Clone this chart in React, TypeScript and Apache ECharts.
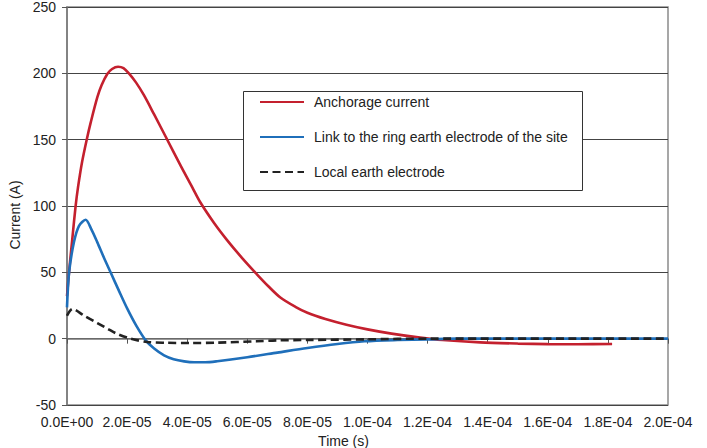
import React, { useEffect, useRef } from "react";
import * as echarts from "echarts";

// time in seconds, current in amperes
const anchorageTime = [0, 0.067e-5, 0.18e-5, 0.287e-5, 0.366e-5, 0.5e-5, 0.656e-5, 0.79e-5, 1.01e-5, 1.15e-5, 1.34e-5, 1.5e-5, 1.7e-5, 1.88e-5, 2.06e-5, 2.3e-5, 2.56e-5, 2.9e-5, 3.29e-5, 3.79e-5, 4.17e-5, 4.43e-5, 4.9e-5, 5.32e-5, 5.8e-5, 6.32e-5, 6.7e-5, 7.1e-5, 7.6e-5, 8.0e-5, 8.6e-5, 9.3e-5, 10e-5, 10.8e-5, 11.75e-5, 12.5e-5, 13.75e-5, 15e-5, 16e-5, 17e-5, 18.14e-5];
const anchorageCurrent = [32, 50, 76, 100, 114, 133, 150, 163, 182, 191, 199.5, 203.3, 205, 204, 200, 193, 183.5, 169, 152, 130, 114, 103, 87, 74.5, 61.5, 48.5, 39.5, 31, 24, 19.5, 14.8, 10.5, 7, 3.8, 0.8, -1, -2.8, -3.7, -4.1, -4.2, -4];

const ringTime = [0, 0.07e-5, 0.23e-5, 0.4e-5, 0.62e-5, 0.8e-5, 1.01e-5, 1.23e-5, 1.45e-5, 1.73e-5, 2.01e-5, 2.3e-5, 2.62e-5, 2.9e-5, 3.23e-5, 3.55e-5, 3.9e-5, 4.23e-5, 4.6e-5, 5.0e-5, 6.0e-5, 7.0e-5, 8.0e-5, 9.0e-5, 9.9e-5, 11e-5, 12e-5, 13e-5, 20e-5];
const ringCurrent = [23.6, 50, 72.6, 85, 89.6, 83, 72.6, 61, 50, 36, 22.4, 10, -1.3, -7.5, -12.6, -15.5, -17.1, -17.8, -17.8, -17, -14, -10.5, -7, -4, -2, -1, -0.5, 0, 0];

const localTime = [0, 0.18e-5, 0.57e-5, 1.01e-5, 1.35e-5, 1.68e-5, 2.12e-5, 2.67e-5, 3.3e-5, 4.12e-5, 5.0e-5, 6.3e-5, 7.0e-5, 8.0e-5, 10e-5, 12e-5, 20e-5];
const localCurrent = [17.3, 22.4, 17.3, 11.8, 7.5, 3.5, 0, -2.5, -3.1, -3.3, -3, -2, -1.3, -1, -0.5, 0, 0];

const seriesNames = [
  "Anchorage current",
  "Link to the ring earth electrode of the site",
  "Local earth electrode",
];

const FONT = "'Liberation Sans', Arial, sans-serif";
const TEXT = "#222";

function pairs(t: number[], v: number[]) {
  return t.map((x, i) => [x, v[i]]);
}

function fmtExp(v: number) {
  const s = v.toExponential(1);
  const m = s.match(/^(-?[\d.]+)e([+-])(\d+)$/);
  if (!m) return s;
  return `${m[1]}E${m[2]}${m[3].padStart(2, "0")}`;
}

export default function App() {
  const ref = useRef<HTMLDivElement>(null);
  useEffect(() => {
    if (!ref.current) return;
    const chart = echarts.init(ref.current, undefined, { renderer: "svg" });
    chart.setOption({
      animation: false,
      backgroundColor: "#ffffff",
      textStyle: { fontFamily: FONT },
      grid: {
        left: 67,
        right: 39,
        top: 7,
        bottom: 43,
        show: true,
        borderColor: "#8a8a8a",
        borderWidth: 1.5,
        outerBoundsMode: "none",
        containLabel: false,
      },
      legend: {
        left: 259,
        top: 95,
        orient: "vertical",
        itemWidth: 44,
        itemHeight: 14,
        itemGap: 21,
        padding: 0,
        itemStyle: { opacity: 0 },
        textStyle: { fontFamily: FONT, fontSize: 14, color: TEXT, padding: [0, 0, 0, 5] },
        data: seriesNames,
      },
      graphic: [
        {
          type: "rect",
          z: 3,
          shape: { x: 243.5, y: 91.5, width: 339, height: 99 },
          style: { fill: "#ffffff", stroke: "#333", lineWidth: 1 },
        },
      ],
      xAxis: {
        type: "value",
        min: 0,
        max: 2e-4,
        interval: 2e-5,
        name: "Time (s)",
        nameLocation: "middle",
        nameGap: 27,
        nameTextStyle: { fontFamily: FONT, fontSize: 14, color: TEXT, padding: [0, 48, 0, 0] },
        axisLine: { show: true, lineStyle: { color: "#777", width: 1.5 } },
        axisTick: { show: true, inside: false, length: 5, lineStyle: { color: "#555" } },
        axisLabel: {
          fontFamily: FONT,
          fontSize: 14,
          color: TEXT,
          margin: 10,
          showMaxLabel: true,
          showMinLabel: true,
          formatter: (v: number) => fmtExp(v),
        },
        splitLine: { show: false },
      },
      yAxis: {
        type: "value",
        min: -50,
        max: 250,
        interval: 50,
        name: "Current (A)",
        nameLocation: "middle",
        nameGap: 41,
        nameTextStyle: { fontFamily: FONT, fontSize: 14, color: TEXT, padding: [0, 18, 0, 0] },
        axisLine: { show: true, lineStyle: { color: "#777", width: 1.5 } },
        axisTick: { show: true, inside: false, length: 5, lineStyle: { color: "#555" } },
        axisLabel: { fontFamily: FONT, fontSize: 14, color: TEXT, margin: 11 },
        splitLine: { show: true, lineStyle: { color: "#444", width: 1 } },
      },
      series: [
        {
          name: seriesNames[0],
          type: "line",
          data: pairs(anchorageTime, anchorageCurrent),
          symbol: "none",
          smooth: 0.3,
          lineStyle: { color: "#c4202e", width: 2.6 },
          itemStyle: { color: "#c4202e" },
          z: 2,
        },
        {
          name: seriesNames[1],
          type: "line",
          data: pairs(ringTime, ringCurrent),
          symbol: "none",
          smooth: 0.3,
          lineStyle: { color: "#1f6fba", width: 2.6 },
          itemStyle: { color: "#1f6fba" },
          z: 2,
        },
        {
          name: seriesNames[2],
          type: "line",
          data: pairs(localTime, localCurrent),
          symbol: "none",
          smooth: 0.3,
          lineStyle: { color: "#222", width: 2.6, type: [8, 4.5] },
          itemStyle: { color: "#222" },
          z: 3,
        },
      ],
    });
    return () => chart.dispose();
  }, []);
  return <div ref={ref} style={{ width: 707, height: 448, position: "absolute", left: 0, top: 0 }} />;
}
